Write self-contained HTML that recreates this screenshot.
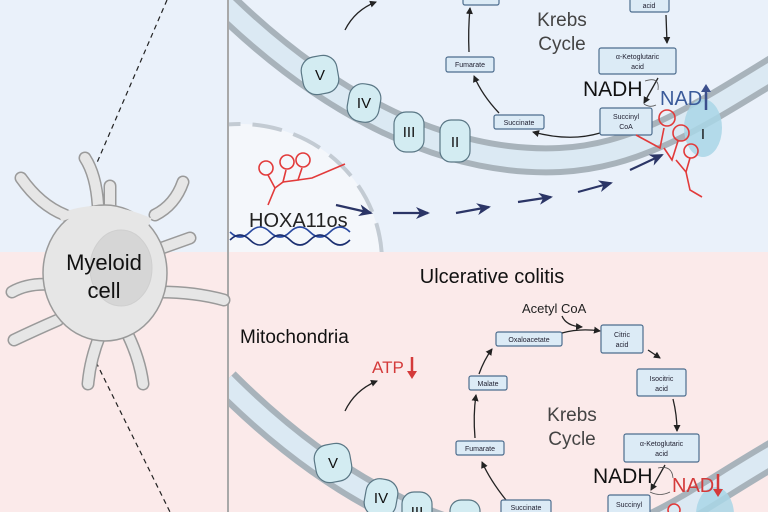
<!DOCTYPE html>
<html><head><meta charset="utf-8"><style>
html,body{margin:0;padding:0;width:768px;height:512px;overflow:hidden;background:#fff}
svg{display:block}
text{font-family:"Liberation Sans",sans-serif}
.bx{fill:#dcebf6;stroke:#4d6d8e;stroke-width:1.2}
.bt{font-size:7px;fill:#223;text-anchor:middle}
.ar{fill:none;stroke:#222;stroke-width:1.3;marker-end:url(#ah)}
.cx{fill:#d3ecf2;stroke:#5a7785;stroke-width:1.2}
.ct{font-size:15px;fill:#111;text-anchor:middle}
</style></head><body>
<svg width="768" height="512" viewBox="0 0 768 512" xmlns="http://www.w3.org/2000/svg">
<defs>
<marker id="ah" markerWidth="8" markerHeight="8" refX="6" refY="4" orient="auto" markerUnits="userSpaceOnUse"><path d="M0,0.5 L7,4 L0,7.5 Z" fill="#222"/></marker>
<marker id="nv" markerWidth="14" markerHeight="12" refX="12" refY="6" orient="auto" markerUnits="userSpaceOnUse"><path d="M0,0 L14,6 L0,12 L4,6 Z" fill="#2b3566"/></marker>
<clipPath id="ctop"><rect x="229" y="0" width="539" height="252"/></clipPath>
<clipPath id="cbot"><rect x="229" y="252" width="539" height="260"/></clipPath>
</defs>
<rect x="0" y="0" width="768" height="252" fill="#eaf1fa"/>
<rect x="0" y="252" width="768" height="260" fill="#fbeaea"/>

<!-- TOP PANEL -->
<g clip-path="url(#ctop)">
  <ellipse cx="240" cy="262" rx="142" ry="138" fill="#f4f7fb" stroke="#c3cbd3" stroke-width="4" stroke-dasharray="30 12"/>
  <path d="M215,-5 C330,110 450,165 560,160 C640,156 700,115 790,60" fill="none" stroke="#a8b3bb" stroke-width="30"/>
  <path d="M215,-5 C330,110 450,165 560,160 C640,156 700,115 790,60" fill="none" stroke="#dbe9f3" stroke-width="18"/>
  <path d="M345,30 Q355,10 376,2" class="ar"/>
  <rect x="463" y="-8" width="36" height="13" rx="2" class="bx"/>
  <rect x="630" y="-10" width="39" height="22" rx="2" class="bx"/><text x="649" y="8" class="bt">acid</text>
  <text x="562" y="26" font-size="19" fill="#444" text-anchor="middle">Krebs</text>
  <text x="562" y="50" font-size="19" fill="#444" text-anchor="middle">Cycle</text>
  <path d="M666,15 L667,43" class="ar"/>
  <rect x="599" y="48" width="77" height="26" rx="2" class="bx"/><text x="637.5" y="59" class="bt">α-Ketoglutaric</text><text x="637.5" y="69" class="bt">acid</text>
  <path d="M469,52 Q468,30 470,8" class="ar"/>
  <rect x="446" y="57" width="48" height="15" rx="2" class="bx"/><text x="470" y="67" class="bt">Fumarate</text>
  <path d="M499,113 Q482,95 474,76" class="ar"/>
  <rect x="494" y="115" width="50" height="14" rx="2" class="bx"/><text x="519" y="125" class="bt">Succinate</text>
  <path d="M600,133 Q570,142 533,132" class="ar"/>
  <rect x="600" y="108" width="52" height="27" rx="2" class="bx"/><text x="626" y="119" class="bt">Succinyl</text><text x="626" y="129" class="bt">CoA</text>
  <text x="583" y="96" font-size="21" fill="#111">NADH</text>
  <path d="M658,78 L644,103" class="ar"/>
  <path d="M645,81 Q660,76 658,90 M644,104 Q650,108 656,105" fill="none" stroke="#555" stroke-width="0.8"/>
  <ellipse cx="703" cy="128" rx="19" ry="29" fill="#a9d6e6" opacity="0.85"/>
  <text x="660" y="105" font-size="20" fill="#3a5a9a">NAD</text>
  <path d="M706,110 L706,88" stroke="#3b4f8c" stroke-width="2.5"/><path d="M701,92 L706,84 L711,92 Z" fill="#3b4f8c"/>
  <text x="703" y="139" class="ct">I</text>
  <rect x="302" y="56" width="36" height="38" rx="14" class="cx" transform="rotate(-10 320 75)"/><text x="320" y="80" class="ct">V</text>
  <rect x="348" y="84" width="32" height="38" rx="14" class="cx" transform="rotate(10 364 103)"/><text x="364" y="108" class="ct">IV</text>
  <rect x="394" y="112" width="30" height="40" rx="12" class="cx"/><text x="409" y="137" class="ct">III</text>
  <rect x="440" y="120" width="30" height="42" rx="11" class="cx"/><text x="455" y="147" class="ct">II</text>
  <!-- RNA near I -->
  <g fill="none" stroke="#e23a3a" stroke-width="1.6">
    <path d="M636,135 L660,148 L664,128"/><circle cx="667" cy="118" r="8"/>
    <path d="M664,148 L672,160 L678,141"/><circle cx="681" cy="133" r="8"/>
    <path d="M676,160 L686,172 L690,158"/><circle cx="691" cy="151" r="7"/>
    <path d="M686,172 L690,190 L702,197"/>
  </g>
  <!-- RNA left -->
  <g fill="none" stroke="#e23a3a" stroke-width="1.6">
    <path d="M268,205 L275,188 L268,175"/><circle cx="266" cy="168" r="7"/>
    <path d="M275,188 L283,182 L286,170"/><circle cx="287" cy="162" r="7"/>
    <path d="M283,182 L298,180 L302,168"/><circle cx="303" cy="160" r="7"/>
    <path d="M298,180 L312,178 L345,164"/>
  </g>
  <text x="249" y="227" font-size="20" fill="#222">HOXA11os</text>
  <path d="M230,232 Q240,242 250,232 T270,232 T290,232 T310,232 T330,232 T350,232" fill="none" stroke="#2848a0" stroke-width="1.6"/>
  <path d="M230,240 Q240,230 250,240 T270,240 T290,240 T310,240 T330,240 T350,240" fill="none" stroke="#1a2e70" stroke-width="1.6"/>
  <g stroke="#2b3566" stroke-width="2.2" marker-end="url(#nv)">
    <line x1="336" y1="205" x2="371" y2="213"/><line x1="393" y1="213" x2="428" y2="213"/>
    <line x1="456" y1="213" x2="489" y2="207"/><line x1="518" y1="202" x2="551" y2="197"/>
    <line x1="578" y1="192" x2="611" y2="183"/><line x1="630" y1="170" x2="662" y2="155"/>
  </g>
</g>

<!-- BOTTOM PANEL -->
<g clip-path="url(#cbot)">
  <path d="M225,382 C340,497 460,552 570,547 C650,543 700,495 790,445" fill="none" stroke="#a8b3bb" stroke-width="30"/>
  <path d="M225,382 C340,497 460,552 570,547 C650,543 700,495 790,445" fill="none" stroke="#dbe9f3" stroke-width="18"/>
  <text x="492" y="283" font-size="20" fill="#111" text-anchor="middle">Ulcerative colitis</text>
  <text x="240" y="343" font-size="19" fill="#111">Mitochondria</text>
  <text x="372" y="373" font-size="17" fill="#d43a3a">ATP</text>
  <path d="M412,357 L412,374" stroke="#d43a3a" stroke-width="2.5"/><path d="M407,371 L412,379 L417,371 Z" fill="#d43a3a"/>
  <path d="M345,411 Q355,390 377,381" class="ar"/>
  <text x="522" y="313" font-size="13" fill="#222">Acetyl CoA</text>
  <path d="M562,316 Q566,326 582,327" class="ar"/>
  <rect x="496" y="332" width="66" height="14" rx="2" class="bx"/><text x="529" y="342" class="bt">Oxaloacetate</text>
  <path d="M562,333 Q580,328 600,331" class="ar"/>
  <rect x="601" y="325" width="42" height="28" rx="2" class="bx"/><text x="622" y="337" class="bt">Citric</text><text x="622" y="347" class="bt">acid</text>
  <path d="M648,350 L660,358" class="ar"/>
  <rect x="637" y="369" width="49" height="27" rx="2" class="bx"/><text x="661.5" y="381" class="bt">Isocitric</text><text x="661.5" y="391" class="bt">acid</text>
  <path d="M673,399 Q677,415 677,431" class="ar"/>
  <rect x="469" y="376" width="38" height="14" rx="2" class="bx"/><text x="488" y="386" class="bt">Malate</text>
  <path d="M479,374 Q484,360 492,349" class="ar"/>
  <text x="572" y="421" font-size="19" fill="#444" text-anchor="middle">Krebs</text>
  <text x="572" y="445" font-size="19" fill="#444" text-anchor="middle">Cycle</text>
  <path d="M475,438 Q473,415 476,395" class="ar"/>
  <rect x="456" y="441" width="48" height="14" rx="2" class="bx"/><text x="480" y="451" class="bt">Fumarate</text>
  <path d="M506,500 Q490,480 482,462" class="ar"/>
  <rect x="501" y="500" width="50" height="14" rx="2" class="bx"/><text x="526" y="510" class="bt">Succinate</text>
  <rect x="624" y="434" width="75" height="28" rx="2" class="bx"/><text x="661.5" y="446" class="bt">α-Ketoglutaric</text><text x="661.5" y="456" class="bt">acid</text>
  <text x="593" y="483" font-size="21" fill="#111">NADH</text>
  <path d="M665,465 L651,490" class="ar"/>
  <path d="M658,468 Q672,465 673,478 M650,492 Q660,497 670,492" fill="none" stroke="#555" stroke-width="0.8"/>
  <rect x="608" y="495" width="42" height="28" rx="2" class="bx"/><text x="629" y="507" class="bt">Succinyl</text>
  <ellipse cx="715" cy="515" rx="19" ry="28" fill="#a9d6e6" opacity="0.85"/>
  <text x="672" y="492" font-size="20" fill="#d43a3a">NAD</text>
  <path d="M718,474 L718,492" stroke="#d43a3a" stroke-width="2.5"/><path d="M713,489 L718,497 L723,489 Z" fill="#d43a3a"/>
  <circle cx="674" cy="510" r="6" fill="none" stroke="#e23a3a" stroke-width="1.6"/>
  <rect x="315" y="444" width="36" height="38" rx="14" class="cx" transform="rotate(-10 333 463)"/><text x="333" y="468" class="ct">V</text>
  <rect x="365" y="479" width="32" height="38" rx="14" class="cx" transform="rotate(10 381 498)"/><text x="381" y="503" class="ct">IV</text>
  <rect x="402" y="492" width="30" height="40" rx="12" class="cx"/><text x="417" y="517" class="ct">III</text>
  <rect x="450" y="500" width="30" height="40" rx="11" class="cx"/>
</g>

<line x1="228" y1="0" x2="228" y2="512" stroke="#a8a8a8" stroke-width="2"/>

<!-- Myeloid cell -->
<line x1="167" y1="0" x2="96" y2="165" stroke="#222" stroke-width="1.2" stroke-dasharray="5 4"/>
<line x1="96" y1="362" x2="170" y2="512" stroke="#222" stroke-width="1.2" stroke-dasharray="5 4"/>
<g stroke-linecap="round" fill="none">
  <g stroke="#9a9a9a" stroke-width="13">
    <path d="M85,158 Q96,175 98,205"/><path d="M110,186 L110,205"/><path d="M21,178 Q40,205 65,215"/>
    <path d="M183,182 Q175,205 155,215"/><path d="M190,238 L162,248"/><path d="M224,300 Q195,292 160,292"/>
    <path d="M12,292 Q30,282 55,285"/><path d="M14,340 Q35,330 58,320"/><path d="M88,384 Q90,360 100,335"/>
    <path d="M143,384 Q140,360 128,335"/>
  </g>
  <g stroke="#e6e6e6" stroke-width="10">
    <path d="M85,158 Q96,175 98,205"/><path d="M110,186 L110,205"/><path d="M21,178 Q40,205 65,215"/>
    <path d="M183,182 Q175,205 155,215"/><path d="M190,238 L162,248"/><path d="M224,300 Q195,292 160,292"/>
    <path d="M12,292 Q30,282 55,285"/><path d="M14,340 Q35,330 58,320"/><path d="M88,384 Q90,360 100,335"/>
    <path d="M143,384 Q140,360 128,335"/>
  </g>
</g>
<ellipse cx="105" cy="273" rx="62" ry="68" fill="#e6e6e6" stroke="#9a9a9a" stroke-width="1.5"/>
<path d="M60,218 Q100,200 150,222" fill="none" stroke="#e6e6e6" stroke-width="8"/>
<ellipse cx="121" cy="268" rx="31" ry="38" fill="#d6d6d6" stroke="#cfcfcf"/>
<text x="104" y="270" font-size="22" fill="#111" text-anchor="middle">Myeloid</text>
<text x="104" y="298" font-size="22" fill="#111" text-anchor="middle">cell</text>
</svg>
</body></html>
